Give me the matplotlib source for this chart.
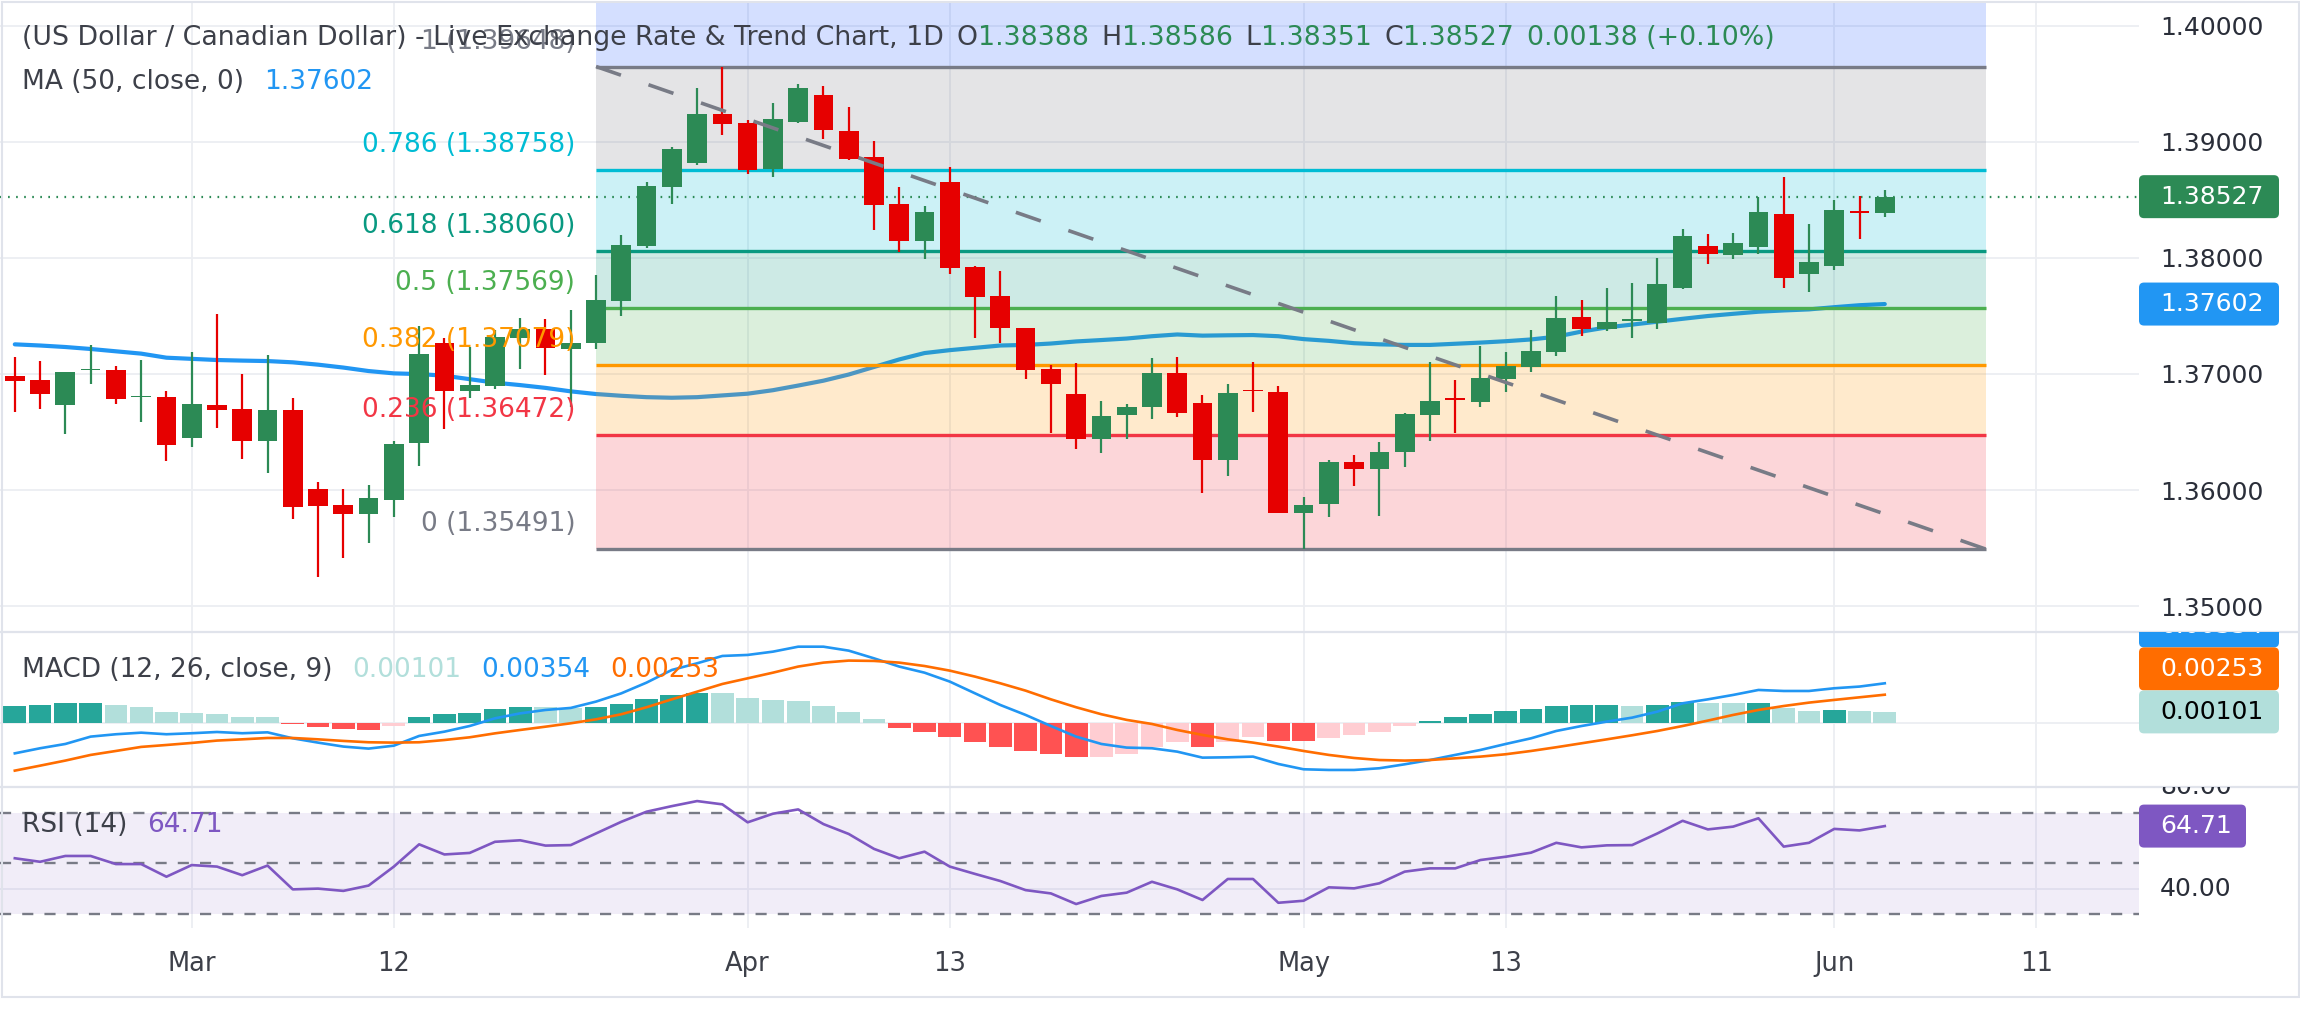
import numpy as np
import matplotlib.pyplot as plt
from matplotlib.patches import Rectangle, FancyBboxPatch
from matplotlib.lines import Line2D
from matplotlib.transforms import Bbox, IdentityTransform

plt.rcParams['font.family'] = ['DejaVu Sans']
plt.rcParams['lines.scale_dashes'] = False

# daily bars (index 0 = first visible bar)
opens = [1.36982, 1.36947, 1.36732, 1.37031, 1.37034, 1.36798, 1.36801, 1.36451, 1.36732, 1.36698,
         1.36425, 1.36689, 1.36009, 1.35871, 1.35796, 1.35917, 1.36408, 1.37266, 1.36856, 1.36896,
         1.37309, 1.37387, 1.37217, 1.37269, 1.37631, 1.38105, 1.38613, 1.38819, 1.39236, 1.39161,
         1.38768, 1.39173, 1.39402, 1.39092, 1.38868, 1.38466, 1.38148, 1.38650, 1.37921, 1.37671,
         1.37393, 1.37039, 1.36824, 1.36436, 1.36643, 1.36718, 1.37005, 1.36747, 1.36261, 1.36861,
         1.36841, 1.35805, 1.35877, 1.36238, 1.36178, 1.36330, 1.36643, 1.36795, 1.36761, 1.36953,
         1.37062, 1.37192, 1.37487, 1.37384, 1.37459, 1.37441, 1.37743, 1.38102, 1.38021, 1.38096,
         1.38375, 1.37858, 1.37932, 1.38397, 1.38388]
highs = [1.37143, 1.37111, 1.37020, 1.37249, 1.37068, 1.37120, 1.36853, 1.37189, 1.37516, 1.36999,
         1.37163, 1.36792, 1.36069, 1.36009, 1.36043, 1.36422, 1.37413, 1.37309, 1.37235, 1.37378,
         1.37482, 1.37473, 1.37550, 1.37852, 1.38196, 1.38656, 1.38952, 1.39460, 1.39648, 1.39187,
         1.39336, 1.39497, 1.39480, 1.39299, 1.39006, 1.38610, 1.38446, 1.38782, 1.37927, 1.37886,
         1.37400, 1.37077, 1.37091, 1.36767, 1.36741, 1.37134, 1.37143, 1.36815, 1.36913, 1.37100,
         1.36896, 1.35937, 1.36258, 1.36298, 1.36411, 1.36660, 1.37100, 1.36948, 1.37243, 1.37186,
         1.37378, 1.37671, 1.37637, 1.37737, 1.37783, 1.37998, 1.38248, 1.38205, 1.38211, 1.38521,
         1.38693, 1.38288, 1.38498, 1.38535, 1.38586]
lows = [1.36675, 1.36698, 1.36485, 1.36913, 1.36741, 1.36586, 1.36253, 1.36370, 1.36534, 1.36267,
        1.36149, 1.35753, 1.35254, 1.35417, 1.35546, 1.35770, 1.36210, 1.36528, 1.36795, 1.36873,
        1.37045, 1.36991, 1.36718, 1.37215, 1.37502, 1.38082, 1.38461, 1.38799, 1.39058, 1.38722,
        1.38699, 1.39158, 1.39026, 1.38842, 1.38240, 1.38053, 1.37990, 1.37861, 1.37312, 1.37269,
        1.36959, 1.36494, 1.36350, 1.36316, 1.36436, 1.36609, 1.36632, 1.35977, 1.36123, 1.36675,
        1.35800, 1.35491, 1.35770, 1.36038, 1.35776, 1.36201, 1.36425, 1.36488, 1.36718, 1.36847,
        1.37019, 1.37154, 1.37329, 1.37367, 1.37312, 1.37390, 1.37728, 1.37950, 1.37993, 1.38036,
        1.37743, 1.37706, 1.37895, 1.38159, 1.38351]
closes = [1.36942, 1.36827, 1.37016, 1.37042, 1.36784, 1.36810, 1.36391, 1.36741, 1.36692, 1.36425,
          1.36689, 1.35851, 1.35865, 1.35796, 1.35931, 1.36396, 1.37171, 1.36856, 1.36904, 1.37318,
          1.37387, 1.37226, 1.37266, 1.37637, 1.38110, 1.38618, 1.38937, 1.39239, 1.39155, 1.38759,
          1.39196, 1.39460, 1.39104, 1.38851, 1.38458, 1.38148, 1.38392, 1.37915, 1.37665, 1.37398,
          1.37037, 1.36916, 1.36436, 1.36640, 1.36712, 1.37005, 1.36666, 1.36261, 1.36833, 1.36850,
          1.35805, 1.35871, 1.36238, 1.36184, 1.36324, 1.36655, 1.36764, 1.36775, 1.36962, 1.37068,
          1.37197, 1.37479, 1.37390, 1.37444, 1.37470, 1.37774, 1.38188, 1.38030, 1.38125, 1.38392,
          1.37829, 1.37961, 1.38412, 1.38389, 1.38527]
ma50 = [1.37255, 1.37245, 1.37232, 1.37215, 1.37195, 1.37175, 1.37140, 1.37130, 1.37120, 1.37115,
        1.37111, 1.37100, 1.37080, 1.37055, 1.37025, 1.37005, 1.36999, 1.36985, 1.36955, 1.36925,
        1.36904, 1.36880, 1.36850, 1.36827, 1.36812, 1.36800, 1.36795, 1.36800, 1.36815, 1.36830,
        1.36860, 1.36900, 1.36942, 1.36995, 1.37060, 1.37125, 1.37180, 1.37205, 1.37225, 1.37245,
        1.37250, 1.37262, 1.37280, 1.37292, 1.37305, 1.37325, 1.37340, 1.37330, 1.37333, 1.37335,
        1.37325, 1.37300, 1.37285, 1.37265, 1.37255, 1.37250, 1.37250, 1.37260, 1.37270, 1.37282,
        1.37297, 1.37321, 1.37365, 1.37401, 1.37425, 1.37450, 1.37475, 1.37499, 1.37518, 1.37536,
        1.37547, 1.37556, 1.37575, 1.37592, 1.37602]

macd = [-0.00266, -0.00221, -0.00183, -0.00118, -0.00097, -0.00083, -0.00097, -0.00088, -0.00077, -0.00088,
        -0.00080, -0.00133, -0.00171, -0.00206, -0.00224, -0.00198, -0.00112, -0.00074, -0.00024, 0.00044,
        0.00088, 0.00118, 0.00136, 0.00192, 0.00265, 0.00360, 0.00472, 0.00531, 0.00596, 0.00605,
        0.00634, 0.00678, 0.00678, 0.00643, 0.00575, 0.00502, 0.00448, 0.00369, 0.00265, 0.00162,
        0.00074, -0.00024, -0.00118, -0.00183, -0.00215, -0.00221, -0.00251, -0.00304, -0.00301, -0.00295,
        -0.00360, -0.00407, -0.00413, -0.00413, -0.00398, -0.00363, -0.00325, -0.00280, -0.00236, -0.00183,
        -0.00133, -0.00068, -0.00024, 0.00015, 0.00050, 0.00103, 0.00177, 0.00212, 0.00251, 0.00295,
        0.00286, 0.00286, 0.00310, 0.00325, 0.00354]
signal = [-0.00419, -0.00375, -0.00330, -0.00280, -0.00245, -0.00209, -0.00192, -0.00174, -0.00153, -0.00142,
          -0.00130, -0.00130, -0.00142, -0.00156, -0.00168, -0.00171, -0.00168, -0.00148, -0.00124, -0.00089,
          -0.00059, -0.00030, 0.00000, 0.00035, 0.00080, 0.00142, 0.00212, 0.00280, 0.00348, 0.00398,
          0.00448, 0.00502, 0.00537, 0.00555, 0.00552, 0.00537, 0.00507, 0.00466, 0.00413, 0.00354,
          0.00289, 0.00212, 0.00142, 0.00080, 0.00030, -0.00006, -0.00059, -0.00103, -0.00142, -0.00171,
          -0.00206, -0.00245, -0.00280, -0.00307, -0.00325, -0.00330, -0.00325, -0.00310, -0.00295, -0.00274,
          -0.00245, -0.00212, -0.00177, -0.00142, -0.00106, -0.00068, -0.00024, 0.00024, 0.00074, 0.00118,
          0.00153, 0.00183, 0.00207, 0.00230, 0.00253]
hist = [0.00153, 0.00162, 0.00180, 0.00182, 0.00162, 0.00145, 0.00100, 0.00091, 0.00083, 0.00056,
        0.00054, -0.00010, -0.00030, -0.00053, -0.00055, -0.00024, 0.00056, 0.00083, 0.00091, 0.00127,
        0.00145, 0.00143, 0.00136, 0.00145, 0.00171, 0.00215, 0.00251, 0.00268, 0.00265, 0.00224,
        0.00206, 0.00198, 0.00153, 0.00100, 0.00038, -0.00041, -0.00077, -0.00121, -0.00165, -0.00209,
        -0.00245, -0.00271, -0.00298, -0.00296, -0.00271, -0.00206, -0.00162, -0.00206, -0.00162, -0.00118,
        -0.00153, -0.00155, -0.00127, -0.00100, -0.00074, -0.00024, 0.00024, 0.00056, 0.00083, 0.00109,
        0.00127, 0.00153, 0.00159, 0.00162, 0.00153, 0.00162, 0.00189, 0.00180, 0.00179, 0.00182,
        0.00136, 0.00109, 0.00118, 0.00109, 0.00101]
rsi = [52.0, 50.6, 52.9, 52.9, 49.7, 49.7, 44.7, 49.3, 48.7, 45.3,
       49.1, 39.7, 40.0, 39.1, 41.2, 48.7, 57.5, 53.5, 54.1, 58.5,
       59.1, 57.0, 57.2, 61.8, 66.4, 70.4, 72.6, 74.6, 73.3, 66.2,
       69.6, 71.3, 65.5, 61.6, 55.7, 52.0, 54.6, 48.7, 45.8, 43.0,
       39.4, 38.1, 33.9, 37.1, 38.4, 42.7, 39.7, 35.5, 43.8, 43.8,
       34.4, 35.2, 40.5, 40.1, 42.1, 46.7, 48.0, 48.0, 51.3, 52.6,
       54.2, 58.1, 56.3, 57.1, 57.2, 61.8, 66.8, 63.4, 64.5, 67.8,
       56.6, 58.1, 63.6, 63.0, 64.71]

tick_idx = [7, 15, 29, 37, 51, 59, 72, 80]
tick_lab = ['Mar', '12', 'Apr', '13', 'May', '13', 'Jun', '11']
price_ticks = [1.35, 1.36, 1.37, 1.38, 1.39, 1.40]

fib_ratio = ['0', '0.236', '0.382', '0.5', '0.618', '0.786', '1']
fib_price = [1.35491, 1.36472, 1.37079, 1.37569, 1.38060, 1.38758, 1.39648]
fib_color = ['#787B86', '#F23645', '#FF9800', '#4CAF50', '#089981', '#00BCD4', '#787B86']
fib_start, fib_end = 23, 78

UP, DN = '#2c8a55', '#e60000'
TXT = '#3d4049'
W, H = 2300, 1030

fig = plt.figure(figsize=(W / 100, H / 100), dpi=100)


def pane(top, bottom):
    return [0, 1 - bottom / H, 2139 / W, (bottom - top) / H]


ax = fig.add_axes(pane(3, 631))
axm = fig.add_axes(pane(632, 786), sharex=ax)
axr = fig.add_axes(pane(787, 928), sharex=ax)

ax.set_xlim(-0.586, 84.06)
ax.set_ylim(1.34786, 1.40195)
axm.set_ylim(-0.00555, 0.00808)
axr.set_ylim(24.43, 80.16)

for a in (ax, axm, axr):
    for s in a.spines.values():
        s.set_visible(False)
    a.grid(True, color='#eceef2', lw=1.3)
    a.set_axisbelow(True)
    a.tick_params(length=0)

ax.set_xticks(tick_idx)
axr.set_xticklabels(tick_lab)
ax.tick_params(labelbottom=False)
axm.tick_params(labelbottom=False)
axr.tick_params(axis='x', pad=16.5, labelsize=18.5, labelcolor=TXT)

ax.yaxis.tick_right()
ax.set_yticks(price_ticks)
ax.set_yticklabels([f'{v:.5f}' for v in price_ticks])
ax.tick_params(axis='y', pad=15, labelsize=18, labelcolor='#2a2e39')
axm.set_yticks([0])
axm.tick_params(axis='y', labelleft=False, labelright=False)
axr.set_yticks([40, 80])
axr.tick_params(axis='y', labelleft=False, labelright=False)

x = np.arange(len(closes))
o, hi, lo, c = map(np.array, (opens, highs, lows, closes))

# moving average sits under the fib fills
ax.plot(x, ma50, color='#2196F3', lw=3, zorder=1.5, solid_capstyle='round')

# fibonacci retracement
span = fib_end - fib_start
ytop = ax.get_ylim()[1]
ax.add_patch(Rectangle((fib_start, fib_price[-1]), span, ytop - fib_price[-1],
                       color='#2962FF', alpha=0.2, lw=0, zorder=2))
for i in range(len(fib_price) - 1):
    ax.add_patch(Rectangle((fib_start, fib_price[i]), span, fib_price[i + 1] - fib_price[i],
                           color=fib_color[i + 1], alpha=0.2, lw=0, zorder=2))
ax.hlines(fib_price, fib_start, fib_end, colors=fib_color, lw=2.4, zorder=2.6)
for r, p, col in zip(fib_ratio, fib_price, fib_color):
    ax.annotate(f'{r} ({p:.5f})', (fib_start, p), xytext=(-15, 18), textcoords='offset points',
                ha='right', va='center', fontsize=19, color=col, zorder=6)

ax.axhline(closes[-1], color=UP, lw=1.6, ls=(0, (1.2, 4.6)), zorder=3)

# candles
col = np.where(c >= o, UP, DN)
ax.vlines(x, lo, hi, colors=col, lw=1.6, zorder=4)
ax.bar(x, np.maximum(np.abs(c - o), 0.00014), bottom=np.minimum(o, c), width=0.78,
       color=col, lw=0, zorder=4)

ax.plot([fib_start, fib_end], [fib_price[-1], fib_price[0]], color='#787B86', lw=2.6,
        dashes=(19, 21), zorder=5)

# MACD
h = np.array(hist)
prev = np.r_[h[0], h[:-1]]
hcol = np.where(h >= 0, np.where(h >= prev, '#26A69A', '#B2DFDB'),
                np.where(h < prev, '#FF5252', '#FFCDD2'))
axm.bar(x, h, width=0.9, color=hcol, lw=0, zorder=2)
axm.plot(x, macd, color='#2196F3', lw=1.9, zorder=3)
axm.plot(x, signal, color='#FF6D00', lw=1.9, zorder=3)

# RSI
axr.axhspan(30, 70, color='#7E57C2', alpha=0.1, lw=0)
for lvl in (70, 50, 30):
    axr.axhline(lvl, color='#787B86', lw=1.7, dashes=(8, 8))
axr.plot(x, rsi, color='#7E57C2', lw=1.9, zorder=3)

# legend texts
rend = fig.canvas.get_renderer()
ident = IdentityTransform()


def chain(x0, y, parts, size=19):
    for s, colr, gap in parts:
        x0 += gap
        t = fig.text(x0, H - y, s, color=colr, fontsize=size, va='center', ha='left',
                     transform=ident, zorder=10)
        x0 = t.get_window_extent(rend).x1


chain(22, 38, [('(US Dollar / Canadian Dollar) - Live Exchange Rate & Trend Chart, 1D', TXT, 0),
               ('O', TXT, 13), (f'{opens[-1]:.5f}', UP, 0),
               ('H', TXT, 13), (f'{highs[-1]:.5f}', UP, 0),
               ('L', TXT, 13), (f'{lows[-1]:.5f}', UP, 0),
               ('C', TXT, 13), (f'{closes[-1]:.5f}', UP, 0),
               (f'{closes[-1] - closes[-2]:.5f} (+{(closes[-1] / closes[-2] - 1) * 100:.2f}%)', UP, 13)],
      size=19.3)
chain(22, 82, [('MA (50, close, 0)', TXT, 0), (f'{ma50[-1]:.5f}', '#2196F3', 20)])
chain(22, 670, [('MACD (12, 26, close, 9)', TXT, 0), (f'{hist[-1]:.5f}', '#B2DFDB', 20),
                (f'{macd[-1]:.5f}', '#2196F3', 20), (f'{signal[-1]:.5f}', '#FF6D00', 20)])
chain(22, 825, [('RSI (14)', TXT, 0), (f'{rsi[-1]:.2f}', '#7E57C2', 20)])


# right-axis value tags
def ypix(axis, v):
    return axis.transData.transform((0, v))[1]


def tag(axis, yd, s, fc, tc, w=140, hgt=43):
    clip = Bbox([[0, axis.bbox.y0], [W, axis.bbox.y1]])
    p = FancyBboxPatch((2139, yd - hgt / 2), w, hgt, boxstyle='round,pad=0,rounding_size=5',
                       fc=fc, ec='none', transform=ident, zorder=8)
    p.set_clip_box(clip)
    fig.add_artist(p)
    t = fig.text(2160, yd, s, color=tc, fontsize=18, va='center', ha='left', transform=ident, zorder=9)
    t.set_clip_box(clip)


def axlabel(axis, v, s):
    clip = Bbox([[0, axis.bbox.y0], [W, axis.bbox.y1]])
    t = fig.text(2160, ypix(axis, v), s, color='#2a2e39', fontsize=18, va='center', ha='left',
                 transform=ident)
    t.set_clip_box(clip)


tag(ax, ypix(ax, closes[-1]), f'{closes[-1]:.5f}', UP, 'white')
tag(ax, ypix(ax, ma50[-1]), f'{ma50[-1]:.5f}', '#2196F3', 'white')

y_h = ypix(axm, hist[-1])
y_s = max(ypix(axm, signal[-1]), y_h + 43)
y_m = max(ypix(axm, macd[-1]), y_s + 43)
tag(axm, y_m, f'{macd[-1]:.5f}', '#2196F3', 'white')
tag(axm, y_s, f'{signal[-1]:.5f}', '#FF6D00', 'white')
tag(axm, y_h, f'{hist[-1]:.5f}', '#B2DFDB', 'black')

axlabel(axr, 80, '80.00')
axlabel(axr, 40, '40.00')
tag(axr, ypix(axr, rsi[-1]), f'{rsi[-1]:.2f}', '#7E57C2', 'white', w=107)

# pane separators and outer frame
for yy in (631.5, 786.5):
    fig.add_artist(Line2D([0, W], [H - yy, H - yy], transform=ident, color='#e0e3eb', lw=1.6))
fig.add_artist(Rectangle((1.5, H - 997), W - 3, 995, fill=False, ec='#e0e3eb', lw=1.5,
                         transform=ident))

fig.savefig('out.png', dpi=100)
